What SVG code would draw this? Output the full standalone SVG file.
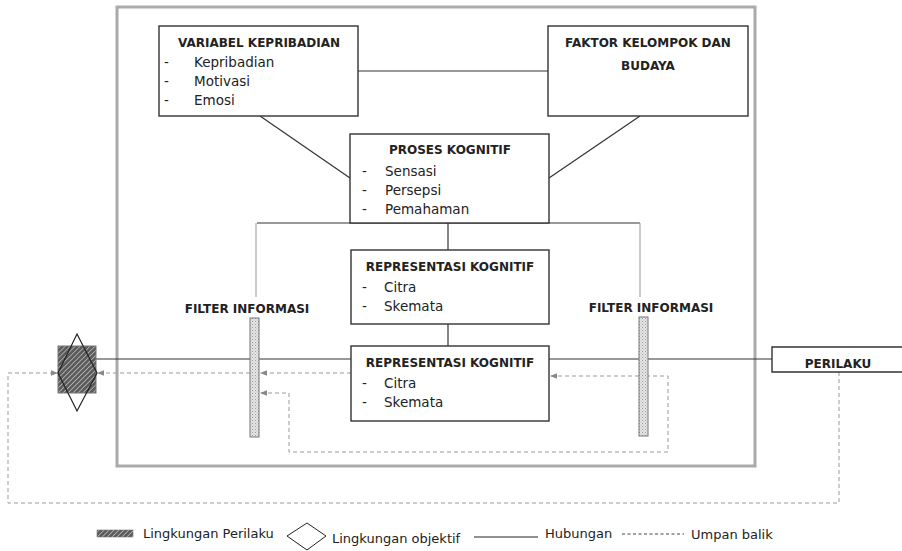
<svg xmlns="http://www.w3.org/2000/svg" width="902" height="551" viewBox="0 0 902 551">
  <style>
    .box { fill: #fff; stroke: #333; stroke-width: 1.4; }
    .title { font-family: "DejaVu Sans", "Liberation Sans", sans-serif; font-weight: bold; font-size: 12px; fill: #222; text-anchor: middle; }
    .item { font-family: "DejaVu Sans", "Liberation Sans", sans-serif; font-size: 13.5px; fill: #222; }
    .legend { font-family: "DejaVu Sans", "Liberation Sans", sans-serif; font-size: 13px; fill: #222; }
    .link { stroke: #333; stroke-width: 1.2; fill: none; }
    .link-light { stroke: #aaa; stroke-width: 1.2; fill: none; }
    .feedback { stroke: #999; stroke-width: 1; stroke-dasharray: 4 3; fill: none; }
    .filter { fill: url(#stipple); stroke: #777; stroke-width: 1; }
  </style>
  <defs>
    <pattern id="hatch" width="3.5" height="3.5" patternUnits="userSpaceOnUse" patternTransform="rotate(45)">
      <rect width="3.5" height="3.5" fill="#5a5a5a"/>
      <line x1="0" y1="0" x2="0" y2="3.5" stroke="#d8d8d8" stroke-width="1.2"/>
    </pattern>
    <pattern id="stipple" width="3" height="3" patternUnits="userSpaceOnUse">
      <rect width="3" height="3" fill="#e6e6e6"/>
      <rect x="0" y="0" width="1" height="1" fill="#9a9a9a"/>
      <rect x="1.5" y="1.5" width="1" height="1" fill="#b5b5b5"/>
    </pattern>
    <marker id="arrow" viewBox="0 0 10 10" refX="10" refY="5" markerWidth="7" markerHeight="7" orient="auto">
      <path d="M0,1 L10,5 L0,9 Z" fill="#888"/>
    </marker>
  </defs>

  <rect width="902" height="551" fill="#fff"/>

  <!-- system boundary -->
  <rect x="117" y="7" width="638" height="459" fill="none" stroke="#aaa" stroke-width="3"/>

  <!-- connectors -->
  <g id="connectors">
    <line class="link" x1="358" y1="71" x2="548" y2="71"/>
    <line class="link" x1="260" y1="116" x2="350" y2="178"/>
    <line class="link" x1="640" y1="116" x2="549" y2="178"/>
    <line class="link" x1="257" y1="223" x2="640" y2="223"/>
    <line class="link-light" x1="256" y1="223" x2="256" y2="297"/>
    <line class="link-light" x1="640" y1="223" x2="640" y2="297"/>
    <line class="link" x1="448" y1="223" x2="448" y2="250"/>
    <line class="link" x1="448" y1="324" x2="448" y2="346"/>
    <line class="link" x1="96" y1="359" x2="351" y2="359"/>
    <line class="link" x1="549" y1="359" x2="772" y2="359"/>

    <!-- feedback paths -->
    <polyline class="feedback" points="839,372 839,503 8,503 8,373 58,373" marker-end="url(#arrow)"/>
    <line class="feedback" x1="351" y1="373" x2="260" y2="373" marker-end="url(#arrow)"/>
    <line class="feedback" x1="250" y1="373" x2="97" y2="373" marker-end="url(#arrow)"/>
    <polyline class="feedback" points="639,376 668,376 668,452 289,452 289,393 260,393" marker-end="url(#arrow)"/>
    <line class="feedback" x1="639" y1="376" x2="550" y2="376" marker-end="url(#arrow)"/>
  </g>

  <!-- behavioural / objective environment -->
  <g id="lingkungan">
    <rect x="58" y="346" width="38" height="47" fill="url(#hatch)" stroke="#777" stroke-width="1"/>
    <polygon points="77,334 97,373 77,411 58,373" fill="none" stroke="#222" stroke-width="1.2"/>
  </g>

  <g id="variabel-kepribadian">
    <rect class="box" x="159" y="26" width="199" height="90"/>
    <text class="title" x="259" y="47">VARIABEL KEPRIBADIAN</text>
    <text class="item" x="164" y="67">-</text><text class="item" x="194" y="67">Kepribadian</text>
    <text class="item" x="164" y="86">-</text><text class="item" x="194" y="86">Motivasi</text>
    <text class="item" x="164" y="105">-</text><text class="item" x="194" y="105">Emosi</text>
  </g>

  <g id="faktor-kelompok">
    <rect class="box" x="548" y="26" width="200" height="90"/>
    <text class="title" x="648" y="47">FAKTOR KELOMPOK DAN</text>
    <text class="title" x="648" y="70">BUDAYA</text>
  </g>

  <g id="proses-kognitif">
    <rect class="box" x="350" y="134" width="199" height="89"/>
    <text class="title" x="450" y="154">PROSES KOGNITIF</text>
    <text class="item" x="362" y="176">-</text><text class="item" x="385" y="176">Sensasi</text>
    <text class="item" x="362" y="195">-</text><text class="item" x="385" y="195">Persepsi</text>
    <text class="item" x="362" y="214">-</text><text class="item" x="385" y="214">Pemahaman</text>
  </g>

  <g id="representasi-1">
    <rect class="box" x="351" y="250" width="198" height="74"/>
    <text class="title" x="450" y="271">REPRESENTASI KOGNITIF</text>
    <text class="item" x="362" y="292">-</text><text class="item" x="384" y="292">Citra</text>
    <text class="item" x="362" y="311">-</text><text class="item" x="384" y="311">Skemata</text>
  </g>

  <g id="representasi-2">
    <rect class="box" x="351" y="346" width="198" height="75"/>
    <text class="title" x="450" y="367">REPRESENTASI KOGNITIF</text>
    <text class="item" x="362" y="388">-</text><text class="item" x="384" y="388">Citra</text>
    <text class="item" x="362" y="407">-</text><text class="item" x="384" y="407">Skemata</text>
  </g>

  <g id="filter-kiri">
    <text class="title" x="247" y="313">FILTER INFORMASI</text>
    <rect class="filter" x="250" y="318" width="9" height="119"/>
  </g>

  <g id="filter-kanan">
    <text class="title" x="651" y="312">FILTER INFORMASI</text>
    <rect class="filter" x="639" y="317" width="9" height="119"/>
  </g>

  <g id="perilaku">
    <path d="M904,347 L772,347 L772,372 L904,372" fill="#fff" stroke="#333" stroke-width="1.4"/>
    <text class="title" x="838" y="368">PERILAKU</text>
  </g>

  <!-- legend -->
  <g id="legend">
    <rect x="97" y="530" width="36" height="7" fill="url(#hatch)" stroke="#777" stroke-width="0.6"/>
    <text class="legend" x="143" y="538">Lingkungan Perilaku</text>
    <polygon points="307,523 326,536 307,550 287,536" fill="none" stroke="#222" stroke-width="1"/>
    <text class="legend" x="332" y="543">Lingkungan objektif</text>
    <line x1="474" y1="537" x2="538" y2="537" stroke="#222" stroke-width="1"/>
    <text class="legend" x="545" y="538">Hubungan</text>
    <line x1="622" y1="534" x2="684" y2="534" stroke="#444" stroke-width="1" stroke-dasharray="3 2.5"/>
    <text class="legend" x="691" y="539">Umpan balik</text>
  </g>
</svg>
